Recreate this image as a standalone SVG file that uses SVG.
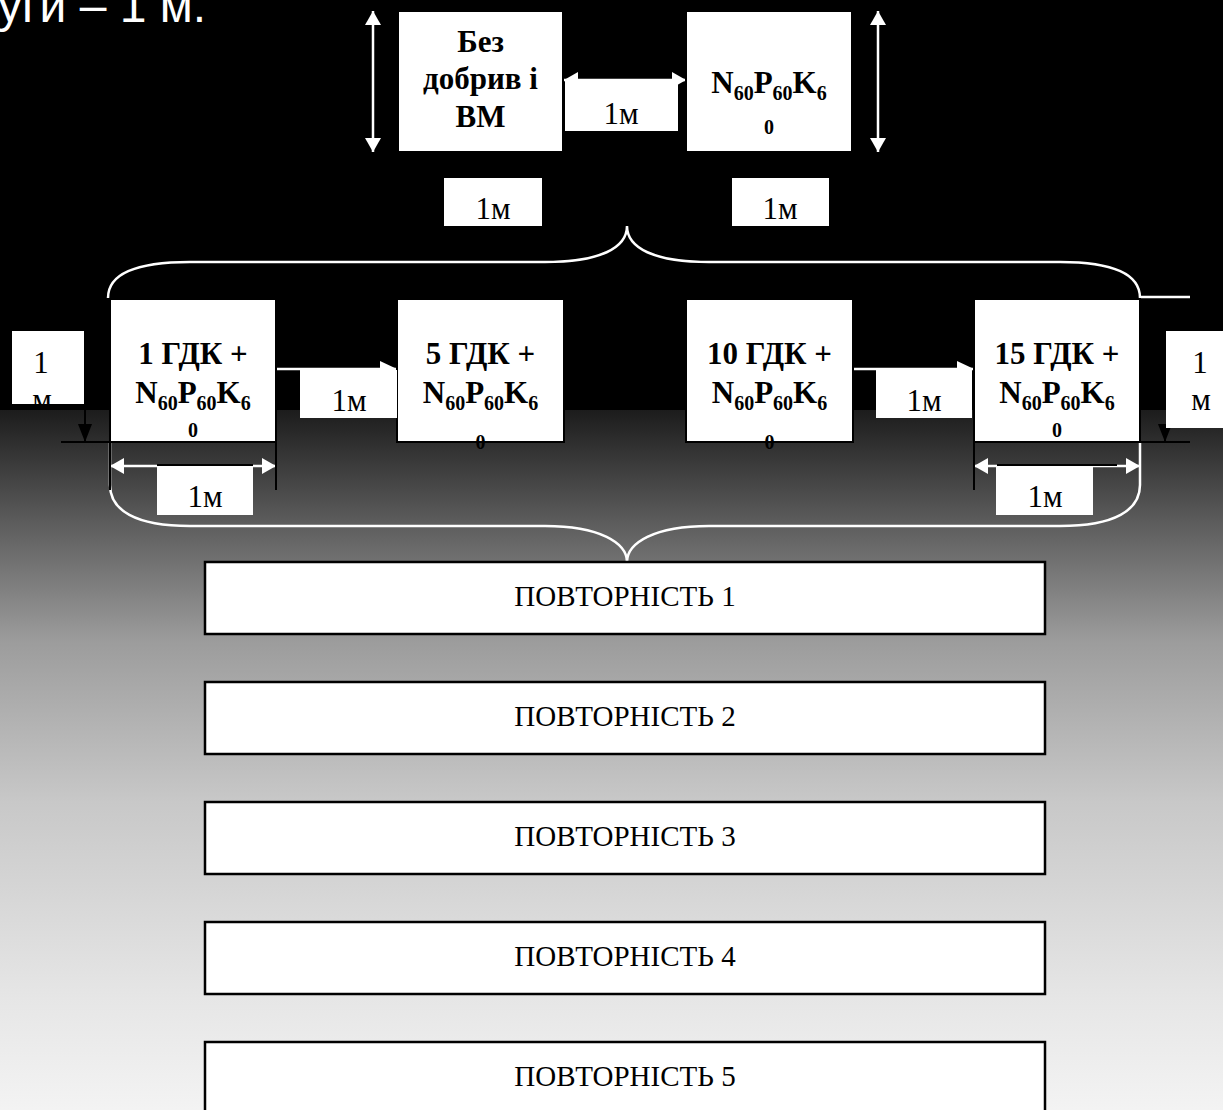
<svg xmlns="http://www.w3.org/2000/svg" width="1223" height="1110" viewBox="0 0 1223 1110">
<defs>
<linearGradient id="bg" gradientUnits="userSpaceOnUse" x1="0" y1="410" x2="0" y2="1110">
<stop offset="0" stop-color="#1c1c1c"/>
<stop offset="0.16" stop-color="#5c5c5c"/>
<stop offset="0.33" stop-color="#9c9c9c"/>
<stop offset="0.56" stop-color="#c8c8c8"/>
<stop offset="0.84" stop-color="#e6e6e6"/>
<stop offset="1" stop-color="#f3f3f3"/>
</linearGradient>
<marker id="wh" markerUnits="userSpaceOnUse" markerWidth="16" markerHeight="16" refX="14" refY="8" orient="auto-start-reverse"><path d="M0,0 L14,8 L0,16 z" fill="#fff"/></marker>
<marker id="wh2" markerUnits="userSpaceOnUse" markerWidth="18" markerHeight="16" refX="17" refY="8" orient="auto-start-reverse"><path d="M0,0 L17,8 L0,16 z" fill="#fff"/></marker>
<marker id="bk" markerUnits="userSpaceOnUse" markerWidth="18" markerHeight="14" refX="18" refY="7" orient="auto"><path d="M0,0 L18,7 L0,14 z" fill="#000"/></marker>
<clipPath id="clipL"><rect x="12" y="331" width="72" height="73"/></clipPath>
<style>
.box{fill:#fff;stroke:#000;stroke-width:2}
.lbl{fill:#fff}
.pbox{fill:#fff;stroke:#000;stroke-width:2.5}
.bt{font-family:"Liberation Serif","Times New Roman",serif;font-weight:bold;font-size:31px;text-anchor:middle;fill:#000}
.sb{font-size:20px}
.rt{font-family:"Liberation Serif","Times New Roman",serif;font-size:31px;text-anchor:middle;fill:#000}
.pt{font-family:"Liberation Serif","Times New Roman",serif;font-size:29px;text-anchor:middle;fill:#000}
.wl{stroke:#fff;stroke-width:2.5;fill:none}
.bl{stroke:#000;stroke-width:2;fill:none}
</style>
</defs>
<rect x="0" y="0" width="1223" height="410" fill="#000"/>
<rect x="0" y="410" width="1223" height="700" fill="url(#bg)"/>
<text x="-2" y="22" font-family="'Liberation Sans',Arial,sans-serif" font-size="48" fill="#fff">уги – 1 м.</text>
<g id="connectors">
<path class="wl" d="M108,298 C108,276 130,262 190,262 L545,262 C600,262 627,248 627,226 C627,248 654,262 709,262 L1060,262 C1118,262 1140,276 1140,298"/>
<line class="wl" x1="1140" y1="297" x2="1190" y2="297" stroke-width="2"/>
<path class="wl" d="M110,443 L110,485 C110,510 135,526 190,526 L545,526 C600,526 627,543 627,562 C627,543 654,526 709,526 L1060,526 C1115,526 1140,510 1140,485 L1140,443"/>
<line class="wl" x1="373" y1="11" x2="373" y2="152" marker-start="url(#wh)" marker-end="url(#wh)"/>
<line class="wl" x1="878" y1="11" x2="878" y2="152" marker-start="url(#wh)" marker-end="url(#wh)"/>
<line class="wl" x1="564" y1="80" x2="686" y2="80" marker-start="url(#wh)" marker-end="url(#wh)"/>
<line class="wl" x1="276" y1="369" x2="397" y2="369" marker-end="url(#wh2)"/>
<line class="wl" x1="853" y1="369" x2="974" y2="369" marker-end="url(#wh2)"/>
<line class="wl" x1="110" y1="466" x2="276" y2="466" marker-start="url(#wh)" marker-end="url(#wh)"/>
<line class="wl" x1="974" y1="466" x2="1140" y2="466" marker-start="url(#wh)" marker-end="url(#wh)"/>
<line class="bl" x1="61" y1="442" x2="110" y2="442"/>
<line class="bl" x1="1140" y1="442" x2="1190" y2="442"/>
<line class="bl" x1="110" y1="442" x2="110" y2="490"/>
<line class="bl" x1="276" y1="442" x2="276" y2="490"/>
<line class="bl" x1="974" y1="442" x2="974" y2="490"/>
<line class="bl" x1="85" y1="404" x2="85" y2="442" marker-end="url(#bk)"/>
<line class="bl" x1="1165" y1="428" x2="1165" y2="442" marker-end="url(#bk)"/>
</g>
<g id="node-control">
<rect class="box" x="398" y="11" width="165" height="141" stroke="none"/>
<text class="bt" x="480.5" y="52">Без</text>
<text class="bt" x="480.5" y="89">добрив і</text>
<text class="bt" x="480.5" y="127">ВМ</text>
</g>
<g id="node-npk">
<rect class="box" x="686" y="11" width="166" height="141" stroke="none"/>
<text class="bt" x="769" y="93">N<tspan class="sb" dy="7">60</tspan><tspan dy="-7">P</tspan><tspan class="sb" dy="7">60</tspan><tspan dy="-7">K</tspan><tspan class="sb" dy="7">6</tspan></text>
<text class="bt sb" x="769" y="134">0</text>
</g>
<g id="label-top-mid"><rect class="lbl" x="565" y="81" width="113" height="50"/><text class="rt" x="621" y="124">1м</text></g>
<g id="label-top-left"><rect class="lbl" x="444" y="178" width="98" height="48"/><text class="rt" x="493" y="219">1м</text></g>
<g id="label-top-right"><rect class="lbl" x="732" y="178" width="97" height="48"/><text class="rt" x="780" y="219">1м</text></g>
<g id="node-1gdk">
<rect class="box" x="110" y="299" width="166" height="143"/>
<text class="bt" x="193" y="364">1 ГДК +</text>
<text class="bt" x="193" y="403">N<tspan class="sb" dy="7">60</tspan><tspan dy="-7">P</tspan><tspan class="sb" dy="7">60</tspan><tspan dy="-7">K</tspan><tspan class="sb" dy="7">6</tspan></text>
<text class="bt sb" x="193" y="437">0</text>
</g>
<g id="node-5gdk">
<rect class="box" x="397" y="299" width="167" height="143"/>
<text class="bt" x="480.5" y="364">5 ГДК +</text>
<text class="bt" x="480.5" y="403">N<tspan class="sb" dy="7">60</tspan><tspan dy="-7">P</tspan><tspan class="sb" dy="7">60</tspan><tspan dy="-7">K</tspan><tspan class="sb" dy="7">6</tspan></text>
<text class="bt sb" x="480.5" y="449">0</text>
</g>
<g id="node-10gdk">
<rect class="box" x="686" y="299" width="167" height="143"/>
<text class="bt" x="769.5" y="364">10 ГДК +</text>
<text class="bt" x="769.5" y="403">N<tspan class="sb" dy="7">60</tspan><tspan dy="-7">P</tspan><tspan class="sb" dy="7">60</tspan><tspan dy="-7">K</tspan><tspan class="sb" dy="7">6</tspan></text>
<text class="bt sb" x="769.5" y="449">0</text>
</g>
<g id="node-15gdk">
<rect class="box" x="974" y="299" width="166" height="143"/>
<text class="bt" x="1057" y="364">15 ГДК +</text>
<text class="bt" x="1057" y="403">N<tspan class="sb" dy="7">60</tspan><tspan dy="-7">P</tspan><tspan class="sb" dy="7">60</tspan><tspan dy="-7">K</tspan><tspan class="sb" dy="7">6</tspan></text>
<text class="bt sb" x="1057" y="437">0</text>
</g>
<g id="label-row-1"><rect class="lbl" x="300" y="370" width="97" height="48"/><text class="rt" x="349" y="411">1м</text></g>
<g id="label-row-2"><rect class="lbl" x="876" y="370" width="96" height="48"/><text class="rt" x="924" y="411">1м</text></g>
<g id="label-bot-left"><rect class="lbl" x="157" y="466" width="96" height="49"/><line class="bl" x1="157" y1="465" x2="253" y2="465"/><text class="rt" x="205" y="507">1м</text></g>
<g id="label-bot-right"><rect class="lbl" x="996" y="466" width="97" height="49"/><line class="bl" x1="997" y1="465" x2="1117" y2="465"/><text class="rt" x="1045" y="507">1м</text></g>
<g id="label-side-left"><rect class="lbl" x="12" y="331" width="72" height="73"/><g clip-path="url(#clipL)"><text class="rt" x="41" y="373">1</text><text class="rt" x="42" y="410">м</text></g></g>
<g id="label-side-right"><rect class="lbl" x="1166" y="331" width="70" height="97"/><text class="rt" x="1200" y="373">1</text><text class="rt" x="1201" y="410">м</text></g>
<g id="rep1"><rect class="pbox" x="205" y="562" width="840" height="72"/><text class="pt" x="625" y="606">ПОВТОРНІСТЬ 1</text></g>
<g id="rep2"><rect class="pbox" x="205" y="682" width="840" height="72"/><text class="pt" x="625" y="726">ПОВТОРНІСТЬ 2</text></g>
<g id="rep3"><rect class="pbox" x="205" y="802" width="840" height="72"/><text class="pt" x="625" y="846">ПОВТОРНІСТЬ 3</text></g>
<g id="rep4"><rect class="pbox" x="205" y="922" width="840" height="72"/><text class="pt" x="625" y="966">ПОВТОРНІСТЬ 4</text></g>
<g id="rep5"><rect class="pbox" x="205" y="1042" width="840" height="80"/><text class="pt" x="625" y="1086">ПОВТОРНІСТЬ 5</text></g>
</svg>
